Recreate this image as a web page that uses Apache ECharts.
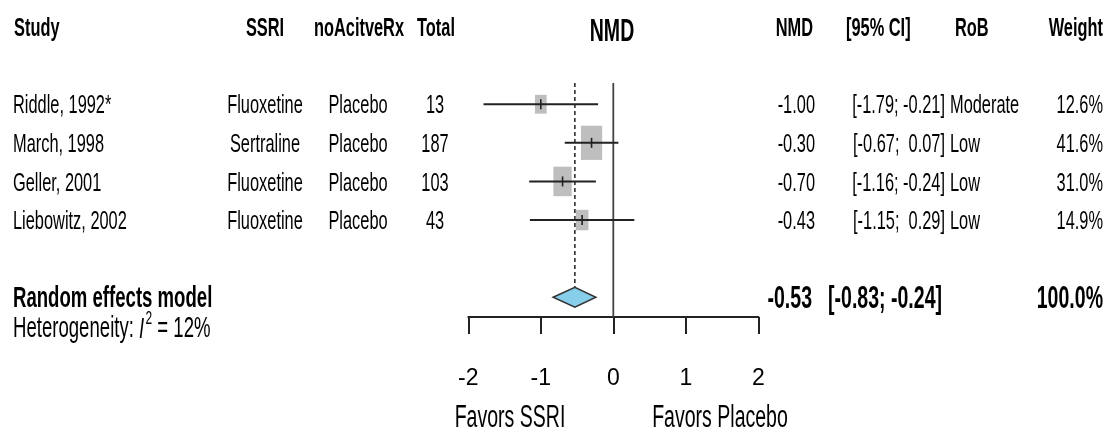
<!DOCTYPE html>
<html>
<head>
<meta charset="utf-8">
<script src="https://cdn.jsdelivr.net/npm/echarts@6/dist/echarts.min.js"></script>
<style>
html,body{margin:0;padding:0;background:#fff;}
#chart{width:1111px;height:435px;}
</style>
</head>
<body>
<div id="chart"></div>
<script>
// ---- data ----
const studies = ['Riddle, 1992*', 'March, 1998', 'Geller, 2001', 'Liebowitz, 2002'];
const ssriDrug = ['Fluoxetine', 'Sertraline', 'Fluoxetine', 'Fluoxetine'];
const control = ['Placebo', 'Placebo', 'Placebo', 'Placebo'];
const totals = [13, 187, 103, 43];
const nmd = [-1.00, -0.30, -0.70, -0.43];
const ciLow = [-1.79, -0.67, -1.16, -1.15];
const ciHigh = [-0.21, 0.07, -0.24, 0.29];
const rob = ['Moderate', 'Low', 'Low', 'Low'];
const weights = [12.6, 41.6, 31.0, 14.9];
const pooled = [-0.53, -0.83, -0.24];   // estimate, lower, upper
const pooledWeight = 100.0;
const i2 = 12;
const xTicks = [-2, -1, 0, 1, 2];
const headers = ['Study', 'SSRI', 'noAcitveRx', 'Total', 'NMD', '[95% CI]', 'RoB', 'Weight'];
const plotTitle = 'NMD';
const labelLeft = 'Favors SSRI';
const labelRight = 'Favors Placebo';

// ---- layout (rows in row units; column x in pixels of the text grid) ----
const studyRows = [2, 3, 4, 5];
const headerRow = 0, summaryRow = 7, hetRow = 7.78, favorsRow = 10.1;
const MAIN_Y_MIN = 1.45, MAIN_Y_MAX = 7.512;
const TEXT_Y_MIN = -0.7, TEXT_Y_MAX = 10.57;
const FONT = "'Liberation Sans', Arial, sans-serif";
const SX = 0.63;          // horizontal condensing of the text
const DY = 2;             // small baseline nudge of the text
const INK = '#000';

const fmt2 = v => v.toFixed(2);
const ciText = (lo, hi) => '[' + fmt2(lo) + '; ' + (hi >= 0 ? ' ' : '') + fmt2(hi) + ']';

function textSeries(x, rows, texts, align, opts) {
  const o = Object.assign({fontSize: 26, fontWeight: 'normal', rich: null}, opts || {});
  return {
    type: 'custom', xAxisIndex: 1, yAxisIndex: 1, silent: true, animation: false, z: 5, clip: false,
    data: rows.map(r => [x, r]),
    renderItem: (params, api) => {
      const p = api.coord([api.value(0), api.value(1)]);
      const style = {
        text: String(texts[params.dataIndex]), fill: INK,
        fontFamily: FONT, fontSize: o.fontSize, fontWeight: o.fontWeight,
        align: align, verticalAlign: 'middle'
      };
      if (o.rich) style.rich = o.rich;
      return {type: 'text', x: p[0], y: p[1] + DY, scaleX: SX, style: style};
    }
  };
}
const B = {fontWeight: 'bold'};
const SB = {fontWeight: 'bold', fontSize: 31};
const H = [headerRow];

const series = [
  // headers
  textSeries(14, H, [headers[0]], 'left', B),
  textSeries(265, H, [headers[1]], 'center', B),
  textSeries(359, H, [headers[2]], 'center', B),
  textSeries(436, H, [headers[3]], 'center', B),
  textSeries(612, [0.08], [plotTitle], 'center', {fontWeight: 'bold', fontSize: 31}),
  textSeries(813, H, [headers[4]], 'right', B),
  textSeries(846, H, [headers[5]], 'left', B),
  textSeries(955, H, [headers[6]], 'left', B),
  textSeries(1103, H, [headers[7]], 'right', B),
  // study rows
  textSeries(13, studyRows, studies, 'left'),
  textSeries(265, studyRows, ssriDrug, 'center'),
  textSeries(358, studyRows, control, 'center'),
  textSeries(435, studyRows, totals, 'center'),
  textSeries(815, studyRows, nmd.map(fmt2), 'right'),
  textSeries(945, studyRows, ciLow.map((l, i) => ciText(l, ciHigh[i])), 'right'),
  textSeries(950, studyRows, rob, 'left'),
  textSeries(1103, studyRows, weights.map(w => w.toFixed(1) + '%'), 'right'),
  // summary row
  textSeries(13, [summaryRow], ['Random effects model'], 'left', {fontWeight: 'bold', fontSize: 29.5}),
  textSeries(812, [summaryRow], [fmt2(pooled[0])], 'right', SB),
  textSeries(942, [summaryRow], [ciText(pooled[1], pooled[2])], 'right', SB),
  textSeries(1103, [summaryRow], [pooledWeight.toFixed(1) + '%'], 'right', SB),
  // heterogeneity
  textSeries(13, [hetRow], ['{a|Heterogeneity: }{i|I}{s|2}{a| = ' + i2 + '%}'], 'left', {
    rich: {
      a: {fontFamily: FONT, fontSize: 29.5, fill: INK},
      i: {fontFamily: FONT, fontSize: 29.5, fill: INK, fontStyle: 'italic'},
      s: {fontFamily: FONT, fontSize: 19, fill: INK, padding: [0, 0, 22, 2]}
    }
  }),
  // favours labels
  textSeries(510, [favorsRow], [labelLeft], 'center', {fontSize: 31}),
  textSeries(720, [favorsRow], [labelRight], 'center', {fontSize: 31}),

  // zero line
  {
    type: 'line', xAxisIndex: 0, yAxisIndex: 0, silent: true, animation: false,
    symbol: 'none', data: [[0, MAIN_Y_MIN], [0, MAIN_Y_MAX]],
    lineStyle: {color: '#444', width: 1.8}, z: 1
  },
  // study boxes + CI
  {
    type: 'custom', xAxisIndex: 0, yAxisIndex: 0, silent: true, animation: false, z: 3,
    data: nmd.map((v, i) => [v, studyRows[i], weights[i], ciLow[i], ciHigh[i]]),
    renderItem: (params, api) => {
      const c = api.coord([api.value(0), api.value(1)]);
      const hgt = 5.3 * Math.sqrt(api.value(2));
      const wid = hgt * 0.62;
      const lo = api.coord([api.value(3), api.value(1)]);
      const hi = api.coord([api.value(4), api.value(1)]);
      return {
        type: 'group', children: [
          {type: 'rect', shape: {x: c[0] - wid / 2, y: c[1] - hgt / 2, width: wid, height: hgt},
           style: {fill: '#bebebe'}},
          {type: 'line', shape: {x1: lo[0], y1: lo[1], x2: hi[0], y2: hi[1]},
           style: {stroke: '#222', lineWidth: 2}},
          {type: 'line', shape: {x1: c[0], y1: c[1] - 5, x2: c[0], y2: c[1] + 5},
           style: {stroke: '#222', lineWidth: 1.6}}
        ]
      };
    }
  },
  // pooled diamond + dashed reference
  {
    type: 'custom', xAxisIndex: 0, yAxisIndex: 0, silent: true, animation: false, z: 4,
    data: [[pooled[0], summaryRow, pooled[1], pooled[2]]],
    renderItem: (params, api) => {
      const c = api.coord([api.value(0), api.value(1)]);
      const lo = api.coord([api.value(2), api.value(1)]);
      const hi = api.coord([api.value(3), api.value(1)]);
      const top = api.coord([api.value(0), MAIN_Y_MIN]);
      const h = 10;
      return {
        type: 'group', children: [
          {type: 'line', shape: {x1: c[0], y1: top[1], x2: c[0], y2: c[1] - h},
           style: {stroke: '#222', lineWidth: 1.5, lineDash: [4, 3]}},
          {type: 'polygon', shape: {points: [[lo[0], c[1]], [c[0], c[1] - h], [hi[0], c[1]], [c[0], c[1] + h]]},
           style: {fill: '#87CEEB', stroke: '#333', lineWidth: 1.5}}
        ]
      };
    }
  }
];

const chart = echarts.init(document.getElementById('chart'), null, {renderer: 'canvas'});
chart.setOption({
  animation: false,
  backgroundColor: '#fff',
  textStyle: {fontFamily: FONT},
  grid: [
    {left: 468.3, right: 352.7, top: 83, bottom: 118},
    {left: 0, right: 0, top: 0, bottom: 0}
  ],
  xAxis: [
    {
      type: 'value', gridIndex: 0, min: xTicks[0], max: xTicks[xTicks.length - 1], interval: 1,
      axisLine: {show: true, onZero: false, lineStyle: {color: '#222', width: 2}},
      axisTick: {show: true, length: 17, lineStyle: {color: '#222', width: 2}},
      axisLabel: {fontFamily: FONT, fontSize: 23, color: INK, margin: 50},
      splitLine: {show: false}
    },
    {type: 'value', gridIndex: 1, min: 0, max: 1111, show: false}
  ],
  yAxis: [
    {type: 'value', gridIndex: 0, min: MAIN_Y_MIN, max: MAIN_Y_MAX, inverse: true, show: false},
    {type: 'value', gridIndex: 1, min: TEXT_Y_MIN, max: TEXT_Y_MAX, inverse: true, show: false}
  ],
  series: series
});
</script>
</body>
</html>
